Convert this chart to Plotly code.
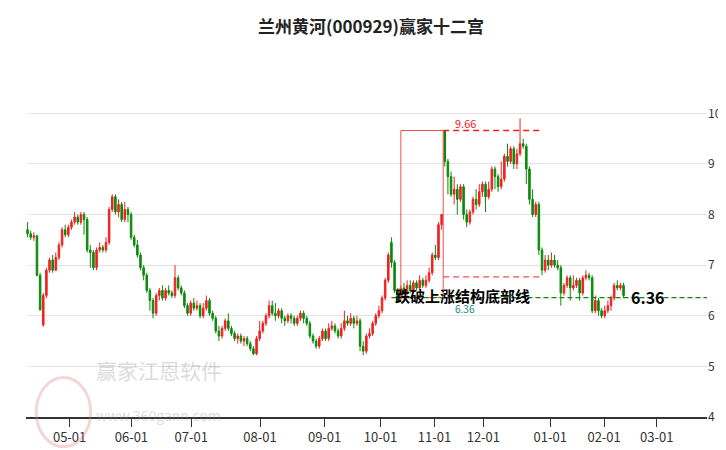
import plotly.graph_objects as go

# daily OHLC (trading day index)
opens = [7.70, 7.62, 7.55, 7.58, 6.80, 5.82, 6.40, 6.90, 7.10, 6.90, 7.15, 7.40, 7.70, 7.60, 7.75, 7.85, 7.95, 7.85, 8.00, 7.90,
         7.30, 7.25, 6.95, 7.30, 7.35, 7.30, 7.45, 8.10, 8.35, 8.05, 8.20, 7.90, 8.10, 8.00, 7.55, 7.40, 7.20, 6.95, 6.80, 6.50,
         6.30, 6.05, 6.40, 6.50, 6.35, 6.50, 6.45, 6.40, 6.75, 6.55, 6.45, 6.20, 6.05, 6.25, 6.15, 6.20, 6.00, 6.15, 6.30, 6.05,
         5.95, 5.70, 5.60, 5.75, 5.90, 5.75, 5.65, 5.55, 5.60, 5.50, 5.55, 5.45, 5.35, 5.25, 5.55, 5.70, 5.85, 6.00, 6.20, 6.05,
         6.00, 6.10, 5.95, 5.90, 6.00, 5.95, 5.85, 5.95, 6.05, 5.95, 5.85, 5.60, 5.50, 5.40, 5.55, 5.70, 5.55, 5.75, 5.80, 5.70,
         5.60, 5.75, 5.90, 5.85, 5.95, 5.85, 5.90, 5.40, 5.30, 5.60, 5.65, 5.85, 6.00, 6.10, 6.35, 6.70, 7.45, 7.05, 6.50, 6.35,
         6.55, 6.45, 6.60, 6.50, 6.65, 6.55, 6.70, 6.60, 6.70, 6.85, 7.20, 7.15, 7.80, 9.66, 9.05, 8.75, 8.40, 8.50, 8.30, 8.55,
         8.00, 7.85, 8.05, 8.30, 8.20, 8.45, 8.60, 8.35, 8.50, 8.90, 8.75, 8.55, 8.70, 9.15, 9.05, 9.30, 9.00, 9.20, 9.40, 9.35,
         8.90, 8.30, 8.00, 8.20, 7.30, 6.90, 7.10, 7.00, 7.10, 7.00, 6.95, 6.45, 6.60, 6.75, 6.55, 6.60, 6.70, 6.45, 6.75, 6.80,
         6.75, 6.10, 6.30, 6.10, 6.00, 6.10, 6.20, 6.35, 6.60, 6.55, 6.60]
closes = [7.62, 7.55, 7.58, 6.80, 6.12, 6.40, 6.90, 7.10, 6.90, 7.15, 7.40, 7.70, 7.60, 7.75, 7.85, 7.95, 7.85, 8.00, 7.90, 7.30,
          7.25, 6.95, 7.30, 7.35, 7.30, 7.45, 8.10, 8.35, 8.05, 8.20, 7.90, 8.10, 8.00, 7.55, 7.40, 7.20, 6.95, 6.80, 6.50, 6.30,
          6.05, 6.40, 6.50, 6.35, 6.50, 6.45, 6.40, 6.75, 6.55, 6.45, 6.20, 6.05, 6.25, 6.15, 6.20, 6.00, 6.15, 6.30, 6.05, 5.95,
          5.70, 5.60, 5.75, 5.90, 5.75, 5.65, 5.55, 5.60, 5.50, 5.55, 5.45, 5.35, 5.25, 5.55, 5.70, 5.85, 6.00, 6.20, 6.05, 6.00,
          6.10, 5.95, 5.90, 6.00, 5.95, 5.85, 5.95, 6.05, 5.95, 5.85, 5.60, 5.50, 5.40, 5.55, 5.70, 5.55, 5.75, 5.80, 5.70, 5.60,
          5.75, 5.90, 5.85, 5.95, 5.85, 5.90, 5.40, 5.30, 5.60, 5.65, 5.85, 6.00, 6.10, 6.35, 6.70, 7.20, 7.05, 6.50, 6.35, 6.55,
          6.45, 6.60, 6.50, 6.65, 6.55, 6.70, 6.60, 6.70, 6.85, 7.20, 7.15, 7.80, 8.00, 9.05, 8.75, 8.40, 8.50, 8.30, 8.55, 8.00,
          7.85, 8.05, 8.30, 8.20, 8.45, 8.60, 8.35, 8.50, 8.90, 8.75, 8.55, 8.70, 9.15, 9.05, 9.30, 9.00, 9.20, 9.40, 9.35, 8.90,
          8.30, 8.00, 8.20, 7.30, 6.90, 7.10, 7.00, 7.10, 7.00, 6.95, 6.45, 6.60, 6.75, 6.55, 6.60, 6.70, 6.45, 6.75, 6.80, 6.75,
          6.10, 6.30, 6.10, 6.00, 6.10, 6.20, 6.35, 6.60, 6.55, 6.60, 6.40]
highs = [7.85, 7.68, 7.65, 7.60, 6.85, 6.45, 6.95, 7.15, 7.20, 7.25, 7.45, 7.75, 7.80, 7.80, 7.90, 8.05, 8.00, 8.05, 8.05, 7.95,
         7.40, 7.30, 7.35, 7.45, 7.40, 7.55, 8.15, 8.40, 8.40, 8.30, 8.25, 8.25, 8.15, 8.05, 7.60, 7.50, 7.25, 7.00, 6.85, 6.55,
         6.35, 6.45, 6.55, 6.60, 6.55, 6.60, 6.50, 7.00, 6.80, 6.60, 6.50, 6.25, 6.30, 6.35, 6.30, 6.25, 6.25, 6.40, 6.35, 6.10,
         6.00, 5.80, 5.80, 5.95, 6.05, 5.80, 5.70, 5.65, 5.65, 5.60, 5.60, 5.50, 5.40, 5.60, 5.90, 5.90, 6.05, 6.30, 6.30, 6.25,
         6.15, 6.15, 6.00, 6.05, 6.05, 6.00, 6.00, 6.10, 6.10, 6.00, 5.90, 5.65, 5.55, 5.60, 5.75, 5.75, 5.85, 5.90, 5.85, 5.75,
         5.85, 6.10, 6.00, 6.05, 6.00, 6.00, 5.95, 5.50, 5.65, 5.75, 5.90, 6.05, 6.20, 6.40, 6.75, 7.25, 7.55, 7.10, 6.55, 6.60,
         6.65, 6.70, 6.70, 6.70, 6.70, 6.80, 6.75, 6.80, 6.95, 7.25, 7.40, 7.85, 8.00, 9.66, 9.10, 8.85, 8.75, 8.60, 8.60, 8.60,
         8.10, 8.10, 8.35, 8.50, 8.60, 8.65, 8.65, 8.65, 8.95, 8.95, 8.80, 9.05, 9.20, 9.40, 9.35, 9.35, 9.30, 9.90, 9.50, 9.40,
         8.95, 8.50, 8.25, 8.25, 7.35, 7.20, 7.20, 7.25, 7.20, 7.10, 7.00, 6.65, 6.80, 6.80, 6.80, 6.75, 6.75, 6.80, 6.90, 6.85,
         6.80, 6.40, 6.35, 6.15, 6.20, 6.30, 6.40, 6.65, 6.70, 6.65, 6.65]
lows = [7.55, 7.50, 7.48, 6.78, 6.10, 5.78, 6.35, 6.85, 6.85, 6.88, 7.10, 7.35, 7.55, 7.55, 7.70, 7.80, 7.80, 7.80, 7.60, 7.25,
        6.95, 6.90, 6.90, 7.25, 7.25, 7.25, 7.40, 8.05, 8.00, 7.95, 7.85, 7.85, 7.85, 7.50, 7.35, 7.15, 6.90, 6.70, 6.45, 6.10,
        5.95, 6.00, 6.30, 6.30, 6.30, 6.40, 6.35, 6.35, 6.50, 6.40, 6.15, 6.00, 6.00, 6.10, 6.10, 5.95, 5.95, 6.10, 6.00, 5.90,
        5.65, 5.50, 5.55, 5.70, 5.70, 5.60, 5.50, 5.45, 5.45, 5.40, 5.40, 5.30, 5.22, 5.22, 5.50, 5.65, 5.80, 5.95, 6.00, 5.90,
        5.95, 5.85, 5.80, 5.85, 5.85, 5.80, 5.80, 5.90, 5.85, 5.80, 5.55, 5.45, 5.35, 5.35, 5.50, 5.50, 5.50, 5.70, 5.65, 5.55,
        5.55, 5.70, 5.80, 5.80, 5.75, 5.80, 5.30, 5.22, 5.25, 5.55, 5.60, 5.80, 5.95, 6.05, 6.30, 6.65, 6.95, 6.45, 6.30, 6.30,
        6.40, 6.40, 6.45, 6.45, 6.50, 6.50, 6.55, 6.55, 6.65, 6.80, 7.10, 7.10, 7.70, 8.95, 8.40, 8.35, 8.20, 8.00, 8.25, 7.90,
        7.75, 7.80, 8.00, 8.10, 8.15, 8.35, 8.05, 8.30, 8.45, 8.50, 8.45, 8.50, 8.65, 8.95, 9.00, 8.90, 8.90, 9.15, 9.30, 8.60,
        8.20, 7.95, 7.95, 7.20, 6.80, 6.85, 6.90, 6.95, 6.95, 6.90, 6.20, 6.40, 6.55, 6.30, 6.50, 6.55, 6.30, 6.40, 6.70, 6.70,
        6.05, 6.05, 6.00, 5.95, 5.95, 6.05, 6.10, 6.30, 6.50, 6.50, 6.35]
days = list(range(len(closes)))

tick_pos = [13.4, 33.1, 52.2, 74.1, 94.7, 112.5, 129.7, 145.3, 166.6, 183.8, 200.6]
tick_text = ["05-01", "06-01", "07-01", "08-01", "09-01", "10-01", "11-01", "12-01", "01-01", "02-01", "03-01"]

top_price = 9.66
base_price = 6.36
mid_price = 6.77
box_start, box_end, line_end = 119, 132.5, 163.7

RED = "#ee2222"
GREEN = "#0b8a0b"

fig = go.Figure()
fig.add_trace(go.Candlestick(
    x=days, open=opens, high=highs, low=lows, close=closes,
    increasing=dict(line=dict(color=RED, width=1), fillcolor=RED),
    decreasing=dict(line=dict(color=GREEN, width=1), fillcolor=GREEN),
    whiskerwidth=0, showlegend=False,
))

# structure box and lines
fig.add_shape(type="rect", x0=box_start, x1=box_end, y0=base_price, y1=top_price,
              line=dict(color="#f05050", width=1))
fig.add_shape(type="line", x0=box_end, x1=line_end, y0=top_price, y1=top_price,
              line=dict(color=RED, width=1.3, dash="6px,4px"))
fig.add_shape(type="line", x0=box_end, x1=line_end, y0=mid_price, y1=mid_price,
              line=dict(color="#f05050", width=1.3, dash="6px,4px"))
fig.add_shape(type="line", x0=116, x1=217, y0=base_price, y1=base_price,
              line=dict(color=GREEN, width=1.3, dash="5px,3px"))

fig.add_annotation(x=135.6, y=9.8, text="9.66", showarrow=False,
                   font=dict(size=11, color=RED), xanchor="left")
fig.add_annotation(x=135.6, y=6.14, text="6.36", showarrow=False,
                   font=dict(size=10, color="#1a8a8a"), xanchor="left")
fig.add_annotation(x=138.8, y=6.4, text="<b>跌破上涨结构底部线</b>", showarrow=False,
                   font=dict(size=15, color="black"))
fig.add_annotation(x=197.8, y=6.38, text="<b>6.36</b>", showarrow=False,
                   font=dict(size=16, color="black"))

# watermark
fig.add_annotation(xref="paper", yref="paper", x=0.1, y=0.09, text="赢家江恩软件",
                   showarrow=False, font=dict(size=21, color="rgba(150,150,150,0.35)"), xanchor="left")
fig.add_annotation(xref="paper", yref="paper", x=0.1, y=-0.03, text="www.360gann.com",
                   showarrow=False, font=dict(size=14, color="rgba(150,150,150,0.35)"), xanchor="left")
fig.add_shape(type="circle", xref="paper", yref="paper", x0=0.015, x1=0.095, y0=-0.09, y1=0.12,
              line=dict(color="rgba(220,120,120,0.3)", width=3))

fig.update_layout(
    title=dict(text="<b>兰州黄河(000929)赢家十二宫</b>", x=0.5, y=0.97, xanchor="center",
               font=dict(size=17, color="#222")),
    width=726, height=450,
    margin=dict(l=18, r=14, t=80, b=37),
    plot_bgcolor="white", paper_bgcolor="white",
    font=dict(family="Noto Sans CJK SC, sans-serif", size=12, color="#333"),
    xaxis=dict(range=[-0.5, 216.6], tickvals=tick_pos, ticktext=tick_text,
               showgrid=False, rangeslider=dict(visible=False),
               showline=True, linecolor="#333", linewidth=1.5,
               ticks="outside", ticklen=8, tickcolor="#333", tickfont=dict(size=13)),
    yaxis=dict(range=[4, 10.5], side="right", dtick=1, showgrid=True, gridcolor="#e3e3e3",
               zeroline=False, ticks="", tickfont=dict(size=12)),
)

fig.write_html("out.html")
